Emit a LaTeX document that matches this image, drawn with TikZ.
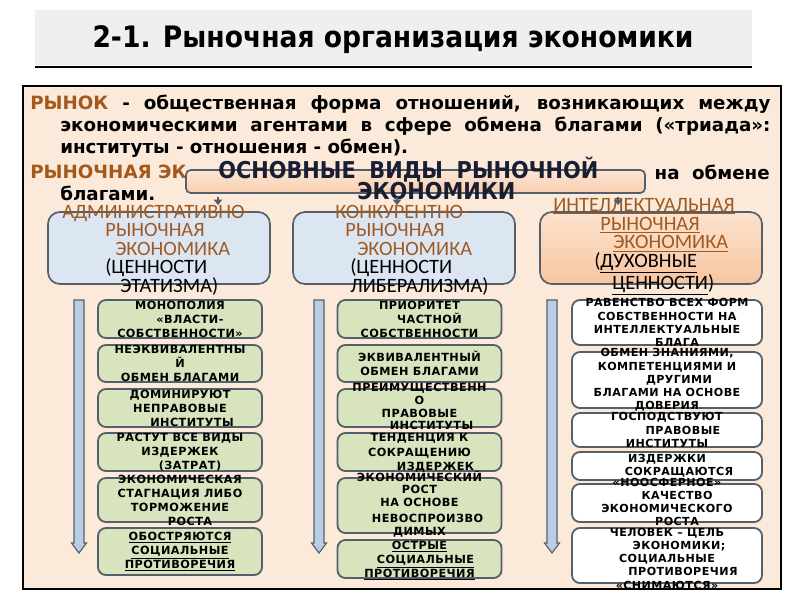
\documentclass[tikz,border=0pt]{standalone}
\usepackage{fontspec}
\setmainfont{DejaVu Sans}
\newfontfamily\condfont{DejaVu Sans Condensed}
\newfontfamily\calfont{Carlito}
\newfontfamily\spacedfont[LetterSpace=4]{DejaVu Sans}
\usetikzlibrary{arrows.meta}

\definecolor{brn}{RGB}{163,88,28}
\definecolor{colbrn}{RGB}{158,90,35}
\definecolor{cream}{RGB}{251,234,218}
\definecolor{bandgray}{RGB}{239,239,239}
\definecolor{blueb}{RGB}{220,230,242}
\definecolor{boxline}{RGB}{85,95,105}
\definecolor{greenb}{RGB}{215,228,190}
\definecolor{arrowfill}{RGB}{185,205,229}
\definecolor{navy}{RGB}{25,30,50}

\begin{document}
\begin{tikzpicture}[x=0.025cm, y=-0.025cm,
  colbox/.style={draw=boxline, line width=1.2pt, rounded corners=0.3cm, minimum width=5.55cm, minimum height=1.8cm},
  coltxt/.style={font=\calfont\fontsize{14.5}{13.2}\selectfont, align=left, anchor=west, inner sep=0pt},
  gbox/.style={draw=boxline, fill=greenb, line width=1.3pt, rounded corners=0.2cm, minimum width=4.1cm},
  wbox/.style={gbox, fill=white, minimum width=4.75cm},
  btxt/.style={font=\spacedfont\bfseries\fontsize{8}{10}\selectfont, align=center, inner sep=0pt},
  rtxt/.style={btxt, font=\spacedfont\bfseries\fontsize{7.9}{9.4}\selectfont},
  longarr/.style={draw=boxline, fill=arrowfill, line width=0.8pt},
  tinyarr/.style={draw=boxline, line width=1.8pt, -{Triangle[width=6pt,length=4pt]}, shorten <=0.08cm, shorten >=0.15cm}]
\useasboundingbox (0,0) rectangle (800,600);

% title
\fill[bandgray] (35,10) rectangle (752,65);
\draw[line width=1pt] (35,67) -- (752,67);
\node[font=\condfont\bfseries\fontsize{21}{25}\selectfont] (title) at (393,40) {2-1. Рыночная организация экономики};

% frame and definitions
\draw[fill=cream, line width=1.6pt] (23,86) rectangle (781,589);
\node[anchor=north west, text width=18.5cm, align=justify, inner sep=0pt,
  font=\bfseries\fontsize{13}{15.6}\selectfont] (defn) at (30,95)
  {\hangindent=0.75cm\hangafter=1 \textcolor{brn}{РЫНОК} - общественная форма отношений, возникающих между\linebreak экономическими агентами в сфере обмена благами («триада»:\linebreak институты - отношения - обмен).\par};
\node[anchor=west, inner sep=0pt, font=\bfseries\fontsize{13}{15.6}\selectfont, text=brn] (ryn) at (30,172) {РЫНОЧНАЯ ЭК};
\node[anchor=east, inner sep=0pt, font=\bfseries\fontsize{13}{15.6}\selectfont] (obm) at (770,172) {\makebox[2.875cm][s]{на обмене}};
\node[anchor=west, inner sep=0pt, font=\bfseries\fontsize{13}{15.6}\selectfont] (blag) at (60,193) {благами.};

% header
\node[draw=boxline, line width=1.2pt, rounded corners=0.12cm, top color={rgb,255:red,252;green,230;blue,212}, bottom color={rgb,255:red,247;green,205;blue,175}, minimum width=11.475cm, minimum height=0.575cm] (hdr) at (415.5,181.5) {};
\node[font=\condfont\bfseries\fontsize{16.5}{15}\selectfont, text=navy, align=left, anchor=west, inner sep=0pt] (hdrtxt) at (218,178)
  {\makebox[9.5cm][s]{ОСНОВНЫЕ ВИДЫ РЫНОЧНОЙ}\\ \hspace*{3.475cm}ЭКОНОМИКИ};

% three kinds
\node[colbox, fill=blueb] (adm) at (159,248) {};
\node[colbox, fill=blueb] (kon) at (404,248) {};
\node[colbox, top color={rgb,255:red,252;green,226;blue,206}, bottom color={rgb,255:red,247;green,197;blue,160}] (int) at (651,248) {};
\node[coltxt] (admtxt) at (62,250) {\textcolor{colbrn}{АДМИНИСТРАТИВНО-}\\ \hspace*{1.075cm}\textcolor{colbrn}{РЫНОЧНАЯ}\\ \hspace*{1.325cm}\textcolor{colbrn}{ЭКОНОМИКА}\\ \hspace*{1.075cm}(ЦЕННОСТИ\\ \hspace*{1.45cm}ЭТАТИЗМА)};
\node[coltxt] (kontxt) at (335,250) {\textcolor{colbrn}{КОНКУРЕНТНО-}\\ \hspace*{0.25cm}\textcolor{colbrn}{РЫНОЧНАЯ}\\ \hspace*{0.55cm}\textcolor{colbrn}{ЭКОНОМИКА}\\ \hspace*{0.375cm}(ЦЕННОСТИ\\ \hspace*{0.375cm}ЛИБЕРАЛИЗМА)};
\node[coltxt] (inttxt) at (553,247) {\textcolor{colbrn}{\underline{ИНТЕЛЛЕКТУАЛЬНАЯ}}\\ \hspace*{1.175cm}\textcolor{colbrn}{\underline{РЫНОЧНАЯ}}\\ \hspace*{1.5cm}\textcolor{colbrn}{\underline{ЭКОНОМИКА}}\\ \hspace*{1.025cm}(\underline{ДУХОВНЫЕ}\\ \hspace*{1.475cm}\underline{ЦЕННОСТИ})};

\coordinate (t1) at (218,0);
\coordinate (t2) at (397,0);
\coordinate (t3) at (618,0);
\draw[tinyarr] (hdr.south -| t1) -- (adm.north -| t1);
\draw[tinyarr] (hdr.south -| t2) -- (kon.north -| t2);
\draw[tinyarr] (hdr.south -| t3) -- (int.north -| t3);

% long arrows
\draw[longarr] (74,300) -- (84,300) -- (84,543) -- (86.5,543) -- (79,553) -- (71.5,543) -- (74,543) -- cycle;
\draw[longarr] (314,300) -- (324,300) -- (324,543) -- (326.5,543) -- (319,553) -- (311.5,543) -- (314,543) -- cycle;
\draw[longarr] (547,300) -- (557,300) -- (557,543) -- (559.5,543) -- (552,553) -- (544.5,543) -- (547,543) -- cycle;

% administrative column
\node[gbox, minimum height=0.95cm] (a1) at (180,319) {};
\node[gbox, minimum height=0.925cm] (a2) at (180,363.5) {};
\node[gbox, minimum height=0.95cm] (a3) at (180,408) {};
\node[gbox, minimum height=0.95cm] (a4) at (180,452) {};
\node[gbox, minimum height=1.1cm] (a5) at (180,500) {};
\node[gbox, minimum height=1.175cm] (a6) at (180,551.5) {};
\node[btxt] (a1t) at (a1) {МОНОПОЛИЯ\\ \hspace*{0.5cm}«ВЛАСТИ-\\СОБСТВЕННОСТИ»};
\node[btxt] (a2t) at (a2) {НЕЭКВИВАЛЕНТНЫ\\Й\\ОБМЕН БЛАГАМИ};
\node[btxt] (a3t) at (a3) {ДОМИНИРУЮТ\\НЕПРАВОВЫЕ\\ \hspace*{0.6cm}ИНСТИТУТЫ};
\node[btxt] (a4t) at (a4) {РАСТУТ ВСЕ ВИДЫ\\ИЗДЕРЖЕК\\ \hspace*{0.5cm}(ЗАТРАТ)};
\node[btxt] (a5t) at (a5) {ЭКОНОМИЧЕСКАЯ\\СТАГНАЦИЯ ЛИБО\\ТОРМОЖЕНИЕ\\ \hspace*{0.5cm}РОСТА};
\node[btxt] (a6t) at (a6) {\underline{ОБОСТРЯЮТСЯ}\\ \underline{СОЦИАЛЬНЫЕ}\\ \underline{ПРОТИВОРЕЧИЯ}};

% competitive column
\node[gbox, minimum height=0.95cm] (k1) at (419.5,319) {};
\node[gbox, minimum height=0.925cm] (k2) at (419.5,363.5) {};
\node[gbox, minimum height=0.95cm] (k3) at (419.5,408) {};
\node[gbox, minimum height=0.95cm] (k4) at (419.5,452) {};
\node[gbox, minimum height=1.375cm] (k5) at (419.5,505.5) {};
\node[gbox, minimum height=0.95cm] (k6) at (419.5,559) {};
\node[btxt] (k1t) at (k1) {ПРИОРИТЕТ\\ \hspace*{0.5cm}ЧАСТНОЙ\\СОБСТВЕННОСТИ};
\node[btxt] (k2t) at (k2) {ЭКВИВАЛЕНТНЫЙ\\ОБМЕН БЛАГАМИ};
\node[btxt, font=\spacedfont\bfseries\fontsize{8}{9}\selectfont, yshift=0.03cm] (k3t) at (k3) {ПРЕИМУЩЕСТВЕНН\\О\\ПРАВОВЫЕ\\ \hspace*{0.6cm}ИНСТИТУТЫ};
\node[btxt, yshift=-0.02cm] (k4t) at (k4) {ТЕНДЕНЦИЯ К\\СОКРАЩЕНИЮ\\ \hspace*{0.8cm}ИЗДЕРЖЕК};
\node[btxt, font=\spacedfont\bfseries\fontsize{8}{8.8}\selectfont, yshift=0.04cm] (k5t) at (k5) {ЭКОНОМИЧЕСКИЙ\\РОСТ\\НА ОСНОВЕ\\[3pt] \hspace*{0.4cm}НЕВОСПРОИЗВО\\ДИМЫХ};
\node[btxt, yshift=-0.04cm] (k6t) at (k6) {\underline{ОСТРЫЕ}\\ \hspace*{0.3cm}\underline{СОЦИАЛЬНЫЕ}\\ \underline{ПРОТИВОРЕЧИЯ}};

% intellectual column
\node[wbox, minimum height=1.125cm] (i1) at (667,322.5) {};
\node[wbox, minimum height=1.4cm] (i2) at (667,380) {};
\node[wbox, minimum height=0.85cm] (i3) at (667,430) {};
\node[wbox, minimum height=0.7cm] (i4) at (667,466) {};
\node[wbox, minimum height=0.95cm] (i5) at (667,503) {};
\node[wbox, minimum height=1.375cm] (i6) at (667,555.5) {};
\node[rtxt] (i1t) at (i1) {РАВЕНСТВО ВСЕХ ФОРМ\\СОБСТВЕННОСТИ НА\\ИНТЕЛЛЕКТУАЛЬНЫЕ\\ \hspace*{0.5cm}БЛАГА};
\node[rtxt] (i2t) at (i2) {ОБМЕН ЗНАНИЯМИ,\\КОМПЕТЕНЦИЯМИ И\\ \hspace*{0.6cm}ДРУГИМИ\\БЛАГАМИ НА ОСНОВЕ\\ДОВЕРИЯ};
\node[rtxt] (i3t) at (i3) {ГОСПОДСТВУЮТ\\ \hspace*{0.8cm}ПРАВОВЫЕ\\ИНСТИТУТЫ};
\node[rtxt] (i4t) at (i4) {ИЗДЕРЖКИ\\ \hspace*{0.6cm}СОКРАЩАЮТСЯ};
\node[rtxt, yshift=0.03cm] (i5t) at (i5) {«НООСФЕРНОЕ»\\ \hspace*{0.5cm}КАЧЕСТВО\\ЭКОНОМИЧЕСКОГО\\ \hspace*{0.5cm}РОСТА};
\node[rtxt, yshift=-0.08cm] (i6t) at (i6) {ЧЕЛОВЕК – ЦЕЛЬ\\ \hspace*{0.6cm}ЭКОНОМИКИ;\\СОЦИАЛЬНЫЕ\\ \hspace*{0.8cm}ПРОТИВОРЕЧИЯ\\«СНИМАЮТСЯ»};
\end{tikzpicture}
\end{document}
